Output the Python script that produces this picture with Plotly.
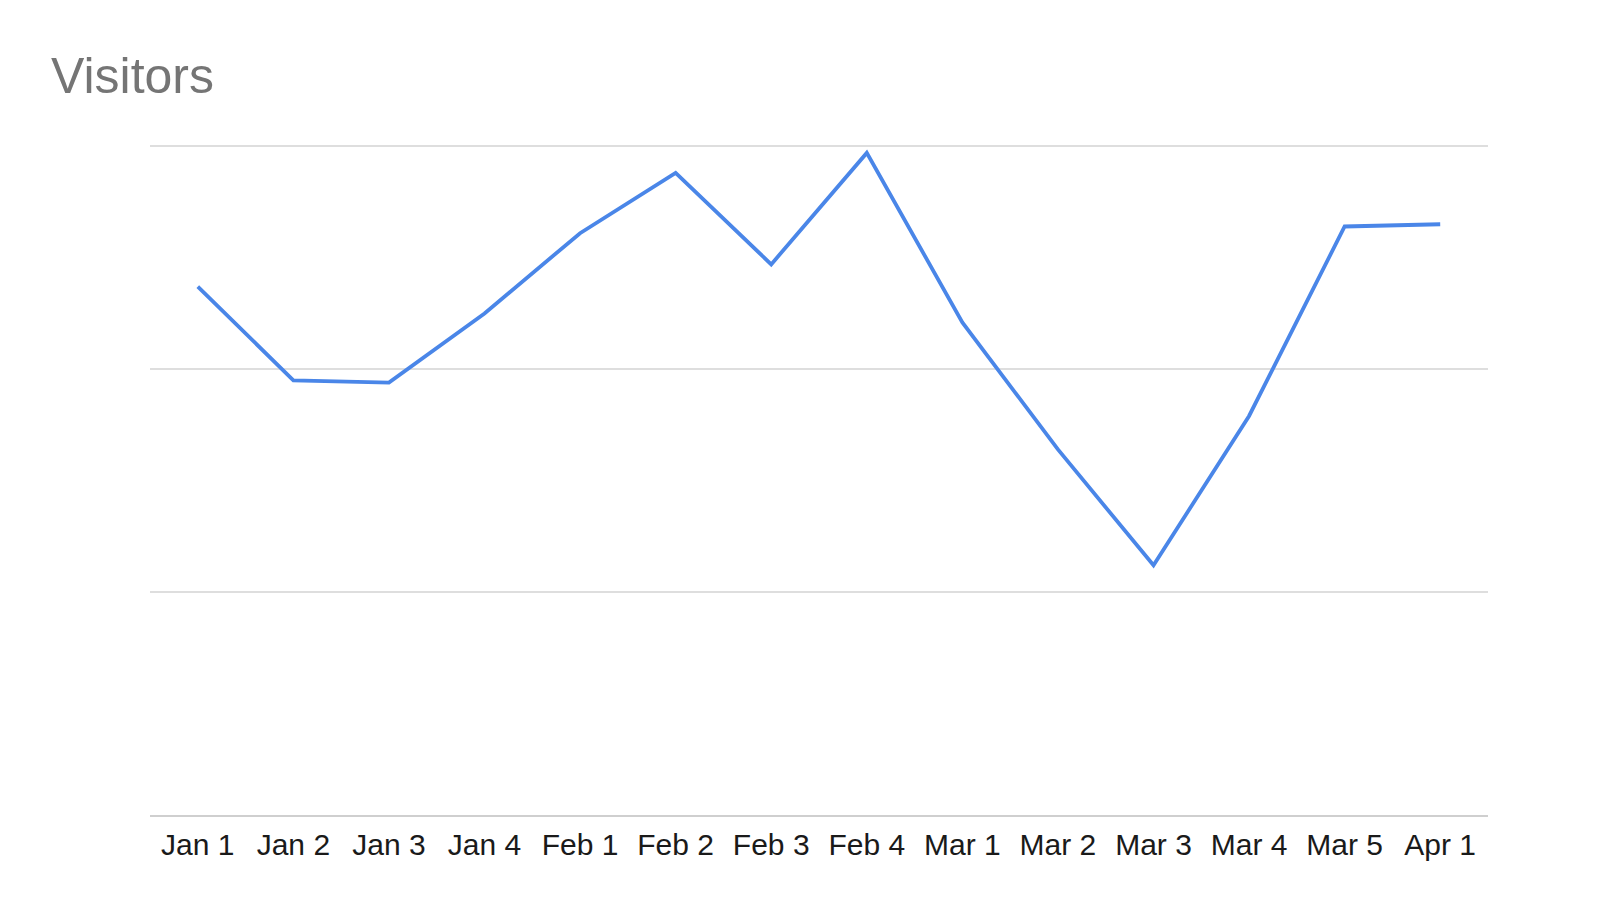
import plotly.graph_objects as go

# Data
dates = ["Jan 1", "Jan 2", "Jan 3", "Jan 4", "Feb 1", "Feb 2", "Feb 3",
         "Feb 4", "Mar 1", "Mar 2", "Mar 3", "Mar 4", "Mar 5", "Apr 1"]
visitors = [237, 195, 194, 225, 261, 288, 247, 297, 221, 164, 112, 179, 264, 265]

fig = go.Figure()

fig.add_trace(
    go.Scatter(
        x=dates,
        y=visitors,
        mode='lines',
        name='Visitors',
        line=dict(color='#4a86e8', width=3.8),
        showlegend=False
    )
)

fig.update_layout(
    width=1600,
    height=915,
    paper_bgcolor='white',
    plot_bgcolor='white',
    margin=dict(l=142, r=120, t=136, b=108),
    title=dict(
        text="Visitors",
        font=dict(family="Liberation Sans, Arial, sans-serif", size=50, color='#757575'),
        x=43 / 1600,
        xref='container',
        xanchor='left',
        y=1 - 67 / 915,
        yref='container',
        yanchor='middle'
    ),
    font=dict(family="Liberation Sans, Arial, sans-serif"),
    xaxis=dict(
        type='category',
        range=[-0.5, 13.5],
        showgrid=False,
        showline=True,
        linecolor='#cfcfcf',
        linewidth=2,
        ticks='',
        ticklabelstandoff=2,
        tickfont=dict(size=30, color='#1a1a1a'),
        fixedrange=True
    ),
    yaxis=dict(
        range=[0, 301],
        tickvals=[0, 100, 200, 300],
        showticklabels=False,
        showgrid=True,
        gridcolor='#dedede',
        gridwidth=2,
        zeroline=False,
        fixedrange=True
    )
)

fig.write_html("out.html")
